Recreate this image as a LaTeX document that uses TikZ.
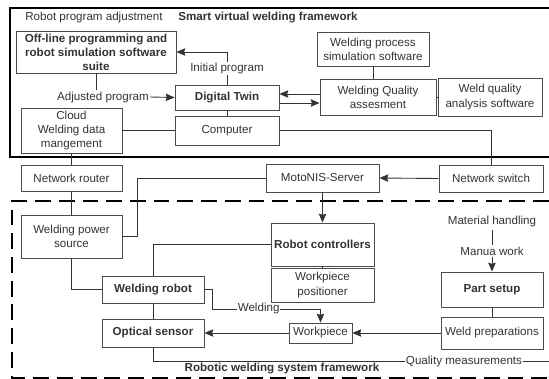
\documentclass[tikz,border=0pt]{standalone}
\usepackage{fontspec}
\setmainfont{Liberation Sans}
\usepackage{tikz}
\usetikzlibrary{
    arrows.meta,
    calc
}
\tikzset{blk/.style 2 args={draw=black!70, minimum width=#1*0.02cm, minimum height=#2*0.02cm, align=center, inner sep=1pt},
    lbl/.style={fill=white, inner sep=0.5pt},
    frame/.style={line width=1.2pt, black}}

\begin{document}
\begin{tikzpicture}[x=0.02cm,y=-0.02cm,>={Stealth[length=5pt,width=4.2pt,inset=0.6pt]},line width=0.5pt,
    black!80, font=\fontsize{6.6}{8}\selectfont]
    \useasboundingbox (0,0) rectangle (549,379);
    % frames
    \draw [frame] (549,8) -- (10,8) -- (10,157) -- (549,157);
    \draw [frame, dash pattern=on 9pt off 4.5pt] (549,201) -- (12,201) -- (12,378) -- (549,378);
    \node [anchor=west] (tadj) at (19,18) {Robot program adjustment};
    \node (tsmart) at (268,18) {\bfseries Smart virtual welding framework};
    \node [fill=white, inner sep=1pt] (trob) at (282,369) {\bfseries Robotic welding system framework};
	% smart virtual part
	\node [blk={160}{42}] (off) at (96,52) {\bfseries Off-line programming and\\ \bfseries robot simulation software\\ \bfseries suite};
	\node [blk={104}{25}] (dt) at (227,97.5) {\bfseries Digital Twin};
	\node [blk={104}{29}] (comp) at (227,130.5) {Computer};
	\node [blk={101}{45}] (cloud) at (71.5,130.5) {Cloud\\ Welding data\\ mangement};
	\node [blk={112}{34}] (sim) at (373,49) {Welding process\\ simulation software};
	\node [blk={116}{36}] (wqa) at (378,97) {Welding Quality\\ assesment};
	\node [blk={104}{38}] (wqs) at (490,97) {Weld quality\\ analysis software};
	% network
	\node [blk={101}{26}] (router) at (71.5,178) {Network router};
	\node [blk={113}{28}] (server) at (322.5,178) {MotoNIS-Server};
	\node [blk={104}{27}] (switch) at (491,178.5) {Network switch};
	% robotic welding system
	\node [blk={101}{43}] (power) at (71.5,236.5) {Welding power\\ source};
	\node [blk={103}{43}] (rc) at (322.5,244.5) {\bfseries Robot controllers};
	\node [blk={103}{34}] (pos) at (322.5,285) {Workpiece\\ positioner};
	\node [blk={102}{27}] (robot) at (153,289.5) {\bfseries Welding robot};
	\node [blk={102}{28}] (sensor) at (153,333) {\bfseries Optical sensor};
	\node [blk={63}{20}] (wp) at (320.5,333) {Workpiece};
	\node [blk={102}{35}] (setup) at (492,289.5) {\bfseries Part setup};
	\node [blk={102}{32}] (prep) at (492,333) {Weld preparations};
	\node [inner sep=1pt] (mat) at (492,222) {Material handling};
	\node [inner sep=1pt] (manua) at (492,251) {Manua work};
	\node [lbl] (adj) at (103,97) {Adjusted program};
	\node [lbl] (qm) at (464,361) {Quality measurements};
	\coordinate (bend) at (137,178);
	\coordinate (wb) at (212,309);
	\coordinate (qend) at (549,361);

	\draw [->] (dt.north) -- node [lbl] {Initial program} (dt.north |- off.east) -- (off.east);
	\draw (off.south) -- (off.south |- adj.north);
	\draw [->] (adj.east) -- (dt.west);
	\draw [->] (wqa.west |- 0,94) -- (dt.east |- 0,94);
	\draw [->] (dt.east |- 0,103) -- (wqa.west |- 0,103);
	\draw (dt.south) -- (comp.north);
	\draw (sim.south) -- (sim.south |- wqa.north);
	\draw (wqa.east) -- (wqs.west);
	\draw (cloud.east) -- (comp.west);
	\draw (comp.east) -- (comp.east -| switch.north) -- (switch.north);
	\draw (cloud.south) -- (router.north);
	\draw [->] (switch.west) -- (server.east);
	\draw (server.west) -- (bend) -- (bend |- power.east) -- (power.east);
	\draw (router.south) -- (power.north);
	\draw [->] (server.south) -- (rc.north);
	\draw (rc.south) -- (pos.north);
	\draw (rc.west) -- (rc.west -| robot.north) -- (robot.north);
	\draw (power.south) -- (power.south |- robot.west) -- (robot.west);
	\draw [->] (robot.east) -- (robot.east -| wb) -- (wb) -- node [lbl, pos=0.43] {Welding} (wb -| wp.north) -- (wp.north);
	\draw (robot.south) -- (sensor.north);
	\draw [->] (wp.west) -- (sensor.east);
	\draw [->] (prep.west) -- (wp.east);
	\draw (setup.south) -- (prep.north);
	\draw (mat.south) -- (manua.north);
	\draw [->] (manua.south) -- (setup.north);
	\draw (sensor.south) -- (sensor.south |- qm.west) -- (qm.west);
	\draw (qm.east) -- (qend);
\end{tikzpicture}
\end{document}
